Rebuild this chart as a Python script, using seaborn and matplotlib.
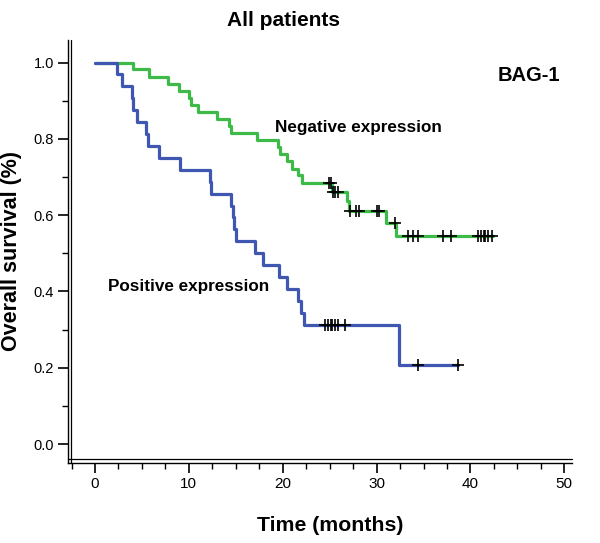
import numpy as np
import pandas as pd
import matplotlib
matplotlib.use("Agg")
import matplotlib.pyplot as plt
import seaborn as sns

# ---- data ----
neg_times = [0, 4.0, 5.7, 7.8, 9.0, 10.05, 10.2, 11.0, 13.0, 14.3, 14.5, 17.3, 19.5, 19.7,
             20.5, 21.0, 21.6, 22.1, 25.2, 26.8, 27.1, 31.0, 32.1, 42.4]
neg_surv = [1.0, 0.982, 0.963, 0.944, 0.926, 0.907, 0.889, 0.870, 0.852, 0.833, 0.815, 0.796,
            0.778, 0.759, 0.741, 0.722, 0.704, 0.683, 0.662, 0.636, 0.612, 0.580, 0.545, 0.545]
neg_cens_t = [24.9, 25.1, 25.4, 25.6, 25.9, 27.2, 27.8, 28.1, 30.0, 30.3, 32.0,
              33.3, 33.9, 34.4, 37.1, 37.9, 40.8, 41.1, 41.4, 41.6, 41.9, 42.3]
neg_cens_s = [0.683, 0.683, 0.662, 0.662, 0.662, 0.612, 0.612, 0.612, 0.612, 0.612, 0.580,
              0.545, 0.545, 0.545, 0.545, 0.545, 0.545, 0.545, 0.545, 0.545, 0.545, 0.545]

pos_times = [0, 2.3, 2.9, 3.9, 4.0, 4.5, 5.4, 5.6, 6.8, 9.1, 12.2, 12.4, 14.5, 14.7, 14.8,
             15.0, 17.0, 17.9, 19.6, 20.5, 21.6, 21.9, 22.3, 32.4, 38.7]
pos_surv = [1.0, 0.969, 0.938, 0.906, 0.875, 0.844, 0.813, 0.781, 0.750, 0.719, 0.688, 0.656,
            0.625, 0.594, 0.563, 0.531, 0.500, 0.469, 0.438, 0.406, 0.375, 0.344, 0.313,
            0.208, 0.208]
pos_cens_t = [24.5, 24.8, 25.1, 25.3, 25.6, 25.9, 26.6, 34.4, 38.7]
pos_cens_s = [0.313, 0.313, 0.313, 0.313, 0.313, 0.313, 0.313, 0.208, 0.208]

x_ticks = [0, 10, 20, 30, 40, 50]
y_ticks = [0.0, 0.2, 0.4, 0.6, 0.8, 1.0]

GREEN = "#3dba48"
BLUE = "#3f57b0"

sns.set_style("white")
plt.rcParams["font.family"] = ["Liberation Sans", "DejaVu Sans"]
plt.rcParams["text.color"] = "black"
plt.rcParams["axes.labelcolor"] = "black"
plt.rcParams["xtick.color"] = "black"
plt.rcParams["ytick.color"] = "black"

curves = pd.concat([
    pd.DataFrame({"time": neg_times, "surv": neg_surv, "group": "Negative expression"}),
    pd.DataFrame({"time": pos_times, "surv": pos_surv, "group": "Positive expression"}),
])
cens = pd.concat([
    pd.DataFrame({"time": neg_cens_t, "surv": neg_cens_s, "group": "Negative expression"}),
    pd.DataFrame({"time": pos_cens_t, "surv": pos_cens_s, "group": "Positive expression"}),
])

fig = plt.figure(figsize=(6.0, 5.43), dpi=100)
ax = fig.add_axes([0.113, 0.147, 0.84, 0.78])

sns.lineplot(data=curves, x="time", y="surv", hue="group",
             palette={"Negative expression": GREEN, "Positive expression": BLUE},
             drawstyle="steps-post", linewidth=2.3, legend=False, ax=ax, estimator=None,
             sort=False)
sns.scatterplot(data=cens, x="time", y="surv", marker="+", color="black", s=70,
                linewidth=1.2, legend=False, ax=ax, zorder=5)

ax.set_xlim(-2.9, 50.8)
ax.set_ylim(-0.05, 1.06)
ax.set_xticks(x_ticks)
ax.set_yticks(y_ticks)
ax.set_xticks(np.arange(-2.5, 51, 2.5), minor=True)
ax.set_yticks(np.arange(0.0, 1.01, 0.1), minor=True)
ax.set_xticklabels([str(v) for v in x_ticks], fontsize=11)
ax.set_yticklabels([f"{v:.1f}" for v in y_ticks], fontsize=10.5)
ax.tick_params(axis="both", which="major", direction="out", length=7, width=1.2,
               color="black", bottom=True, left=True, pad=3)
ax.tick_params(axis="both", which="minor", direction="out", length=4, width=1.0,
               color="black", bottom=True, left=True)

for side in ["top", "right"]:
    ax.spines[side].set_visible(False)
for side in ["left", "bottom"]:
    ax.spines[side].set_color("black")
    ax.spines[side].set_linewidth(1.0)
# SPSS-like double axis line
ax.plot([0.006, 0.006], [0, 1], transform=ax.transAxes, color="black", lw=0.9, clip_on=False)
ax.plot([0, 1], [0.010, 0.010], transform=ax.transAxes, color="black", lw=0.9, clip_on=False)

ax.set_xlabel("Time (months)", fontsize=15.3, fontweight="bold", labelpad=17)
ax.xaxis.set_label_coords(0.52, -0.125)
ax.set_ylabel("Overall survival (%)", fontsize=15.5, fontweight="bold", labelpad=8)

ax.text(19.2, 0.829, "Negative expression", fontsize=12.3, fontweight="bold", va="center")
ax.text(1.4, 0.414, "Positive expression", fontsize=12.3, fontweight="bold", va="center")
ax.text(42.9, 0.967, "BAG-1", fontsize=14.5, fontweight="bold", va="center")
fig.text(0.473, 0.962, "All patients", fontsize=15, fontweight="bold", ha="center", va="center")

fig.savefig("out.png", dpi=100)
